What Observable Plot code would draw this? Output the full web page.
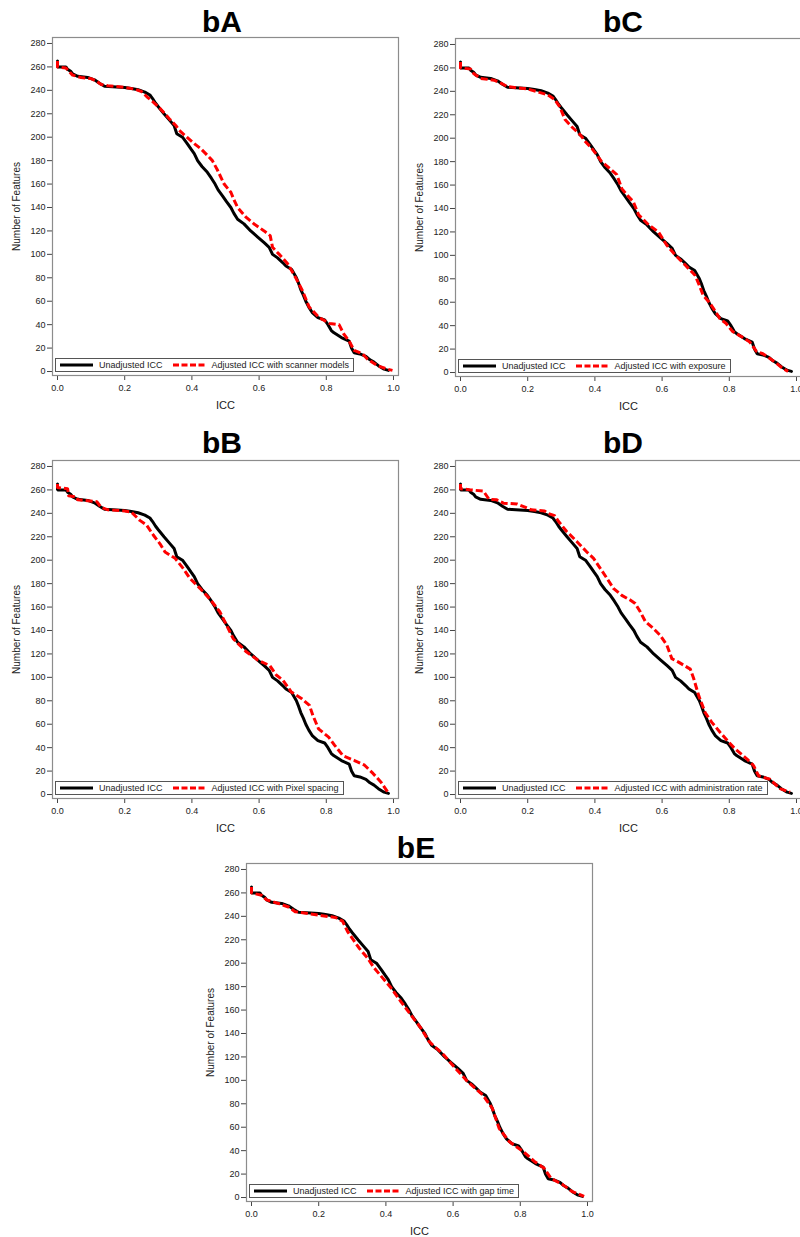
<!DOCTYPE html>
<html>
<head>
<meta charset="utf-8">
<script src="https://cdn.jsdelivr.net/npm/d3@7"></script>
<script src="https://cdn.jsdelivr.net/npm/@observablehq/plot@0.6"></script>
<style>
  html, body { margin: 0; padding: 0; background: #fff; overflow: hidden; width: 800px; height: 1237px; position: relative; font-family: "Liberation Sans", Arial, sans-serif; }
  .panel { position: absolute; width: 400px; height: 378px; }
  .panel svg { display: block; overflow: visible; }
  .title { position: absolute; font-weight: bold; font-size: 30px; line-height: 30px; color: #000; transform: translateX(-50%); white-space: nowrap; }
  .legend { position: absolute; left: 55px; top: 323px; height: 12px; border: 1px solid #555; background: #fff; display: flex; align-items: center; padding: 0 4px 0 4px; font-size: 9px; color: #222; white-space: nowrap; }
  .legend .item { display: flex; align-items: center; }
  .legend .item + .item { margin-left: 10px; }
  .legend svg { margin-right: 6px; }
</style>
</head>
<body>
<script>
// ---- Data ----
const xTicks = [0, 0.2, 0.4, 0.6, 0.8, 1.0];
const yTicks = [0, 20, 40, 60, 80, 100, 120, 140, 160, 180, 200, 220, 240, 260, 280];

// [ICC threshold, Number of Features]
const unadjusted = [[0.000,265],[0.000,260],[0.025,260],[0.030,258],[0.040,256],[0.045,254],[0.060,252],[0.090,251],[0.110,249],[0.125,246],[0.140,243.5],[0.200,242.5],[0.220,241.5],[0.240,240.5],[0.260,238.5],[0.275,236],[0.283,233],[0.292,229],[0.300,226],[0.317,220],[0.332,215],[0.347,210],[0.355,203],[0.372,200],[0.385,195],[0.397,190],[0.407,186],[0.417,180],[0.430,175],[0.446,170],[0.458,165],[0.469,160],[0.478,155],[0.491,150],[0.503,145],[0.516,140],[0.525,135],[0.536,130],[0.555,126],[0.575,120],[0.595,115],[0.615,110],[0.630,106],[0.640,100],[0.655,97],[0.670,93],[0.680,90],[0.697,87],[0.711,80],[0.718,75],[0.724,70],[0.732,65],[0.739,60],[0.748,55],[0.759,50],[0.775,46],[0.795,44],[0.805,40],[0.815,35],[0.823,33],[0.845,29],[0.868,26],[0.875,20],[0.883,16],[0.900,15],[0.918,13],[0.930,10],[0.942,8],[0.955,5],[0.972,2],[0.985,1]];

const adjScanner = [[0,265],[0,260],[0.025,259],[0.035,256],[0.045,253],[0.070,251],[0.100,250],[0.115,248],[0.130,245],[0.150,244],[0.200,242.5],[0.230,241],[0.250,239],[0.268,234],[0.285,230],[0.300,226],[0.320,220],[0.335,215],[0.352,210],[0.362,206],[0.385,200],[0.407,194.5],[0.427,190],[0.441,186],[0.461,180],[0.476,172],[0.496,160],[0.516,153],[0.526,146],[0.536,140],[0.560,132],[0.585,126],[0.615,120],[0.633,116],[0.640,106],[0.660,100],[0.685,92],[0.709,80],[0.729,69],[0.749,55],[0.779,46],[0.810,41],[0.838,40],[0.852,32],[0.868,26],[0.883,18],[0.908,15],[0.923,10.5],[0.952,5],[0.982,2],[0.997,1]];

const adjExposure = [[0,265],[0,260],[0.030,259],[0.040,255],[0.060,251],[0.100,249.5],[0.120,247],[0.140,244],[0.200,242],[0.230,239.5],[0.260,237],[0.280,233],[0.295,227],[0.311,216],[0.330,210],[0.356,203],[0.372,197],[0.390,191.6],[0.405,186],[0.420,180],[0.445,174],[0.465,169],[0.480,157],[0.497,151],[0.514,146],[0.530,134.6],[0.560,126],[0.589,120],[0.600,115],[0.613,109],[0.640,100],[0.668,92],[0.698,83],[0.710,75],[0.722,66],[0.740,60],[0.752,55],[0.772,46],[0.790,42],[0.810,35],[0.840,30],[0.861,26],[0.881,18],[0.900,16],[0.921,12],[0.940,8],[0.960,3.4],[0.975,1]];

const adjPixelSpacing = [[0,265],[0,262],[0.030,261],[0.033,255],[0.057,254],[0.060,251.5],[0.117,250],[0.130,245],[0.150,243],[0.200,242],[0.220,241],[0.245,234],[0.265,230],[0.285,221.5],[0.305,214],[0.320,207],[0.350,201.6],[0.374,193],[0.394,184.5],[0.424,176],[0.453,167],[0.483,156],[0.503,144.6],[0.523,133],[0.562,121.8],[0.597,114.6],[0.632,110],[0.651,102],[0.671,97.5],[0.696,87.5],[0.726,82],[0.750,76],[0.760,67.6],[0.777,56],[0.807,49],[0.825,42],[0.850,33],[0.884,29],[0.914,25],[0.939,18],[0.963,10.5],[0.983,2]];

const adjAdministration = [[0,265],[0,261],[0.030,260],[0.068,259],[0.085,252],[0.108,251.5],[0.128,248.7],[0.168,248],[0.188,245.8],[0.210,243],[0.250,242],[0.260,240],[0.280,238],[0.292,233],[0.316,224.5],[0.346,216],[0.376,207],[0.396,201.6],[0.416,193],[0.436,184.5],[0.455,176],[0.480,170],[0.505,166],[0.520,163],[0.535,156],[0.550,147.7],[0.574,141.7],[0.594,136],[0.614,127.7],[0.629,116],[0.649,113],[0.684,107],[0.694,99],[0.709,84.4],[0.728,70],[0.748,61.6],[0.773,53],[0.798,44.8],[0.817,39],[0.852,30.5],[0.872,24.8],[0.887,16],[0.921,13],[0.951,5],[0.981,2]];

const adjGapTime = [[0,265],[0,260],[0.030,258],[0.045,254],[0.080,251],[0.110,248],[0.130,244],[0.200,241],[0.250,239],[0.271,235.9],[0.286,227],[0.320,213],[0.345,204.5],[0.365,196],[0.390,187.5],[0.415,179],[0.444,167.5],[0.474,156],[0.504,144.7],[0.529,133],[0.573,121.5],[0.608,110],[0.643,99],[0.688,87.7],[0.717,76],[0.737,59],[0.767,47.8],[0.810,39],[0.841,31],[0.871,25],[0.891,16.5],[0.926,11],[0.955,5],[0.990,1]];

const panelTitles = ["bA", "bC", "bB", "bD", "bE"];
const adjustedLabels = ["Adjusted ICC with scanner models", "Adjusted ICC with exposure", "Adjusted ICC with Pixel spacing", "Adjusted ICC with administration rate", "Adjusted ICC with gap time"];
const adjustedSeries = [adjScanner, adjExposure, adjPixelSpacing, adjAdministration, adjGapTime];
const unadjustedLabel = "Unadjusted ICC";

// ---- Layout ----
const layout = [
  {left: 0,   top: 35,  titleX: 222, titleBase: 32},
  {left: 403, top: 36,  titleX: 623, titleBase: 32},
  {left: 0,   top: 458, titleX: 222, titleBase: 453},
  {left: 403, top: 458, titleX: 623, titleBase: 453},
  {left: 194, top: 861, titleX: 416, titleBase: 858}
];

const FONT = "'Liberation Sans', Arial, sans-serif";

function swatch(color, dashed) {
  const ns = "http://www.w3.org/2000/svg";
  const s = document.createElementNS(ns, "svg");
  s.setAttribute("width", 33); s.setAttribute("height", 6);
  const l = document.createElementNS(ns, "line");
  l.setAttribute("x1", 0); l.setAttribute("x2", 33); l.setAttribute("y1", 3); l.setAttribute("y2", 3);
  l.setAttribute("stroke", color); l.setAttribute("stroke-width", 3);
  if (dashed) l.setAttribute("stroke-dasharray", "6,2.5");
  s.appendChild(l);
  return s;
}

panelTitles.forEach((t, i) => {
  const L = layout[i];
  const rows = [
    ...unadjusted.map(([icc, n]) => ({icc, n, series: unadjustedLabel})),
    ...adjustedSeries[i].map(([icc, n]) => ({icc, n, series: adjustedLabels[i]}))
  ];
  const chart = Plot.plot({
    width: 400,
    height: 378,
    marginLeft: 52,
    marginRight: 2,
    marginTop: 2,
    marginBottom: 38,
    style: {fontFamily: FONT, fontSize: "9px", color: "#222", background: "transparent"},
    x: {domain: [-0.0149, 1.0149]},
    y: {domain: [-3.4, 285.1]},
    marks: [
      Plot.axisX({ticks: xTicks, tickFormat: d => d.toFixed(1), tickSize: 5, tickPadding: 4, label: null, stroke: "#444"}),
      Plot.axisX({ticks: [], label: "ICC", labelArrow: "none", labelAnchor: "center", labelOffset: 33, fontSize: 11, tickSize: 0}),
      Plot.axisY({ticks: yTicks, tickSize: 5, tickPadding: 2, label: null, stroke: "#444"}),
      Plot.axisY({ticks: [], label: "Number of Features", labelArrow: "none", labelAnchor: "center", labelOffset: 40, fontSize: 10, tickSize: 0}),
      Plot.line(rows.filter(d => d.series === unadjustedLabel), {x: "icc", y: "n", stroke: "#000", strokeWidth: 3, strokeLinejoin: "miter"}),
      Plot.line(rows.filter(d => d.series !== unadjustedLabel), {x: "icc", y: "n", stroke: "#ff0000", strokeWidth: 3, strokeDasharray: "7,3", strokeLinecap: "butt"}),
      Plot.frame({stroke: "#8c8c8c", strokeWidth: 1.2})
    ]
  });
  const panel = document.createElement("div");
  panel.className = "panel";
  panel.style.left = L.left + "px";
  panel.style.top = L.top + "px";
  panel.appendChild(chart);

  const legend = document.createElement("div");
  legend.className = "legend";
  [[unadjustedLabel, "#000", false], [adjustedLabels[i], "#ff0000", true]].forEach(([lab, col, dash]) => {
    const it = document.createElement("div");
    it.className = "item";
    it.appendChild(swatch(col, dash));
    const sp = document.createElement("span");
    sp.textContent = lab;
    it.appendChild(sp);
    legend.appendChild(it);
  });
  panel.appendChild(legend);
  document.body.appendChild(panel);

  const title = document.createElement("div");
  title.className = "title";
  title.textContent = t;
  title.style.left = L.titleX + "px";
  title.style.top = (L.titleBase - 25.4) + "px";
  document.body.appendChild(title);
});
</script>
</body>
</html>
